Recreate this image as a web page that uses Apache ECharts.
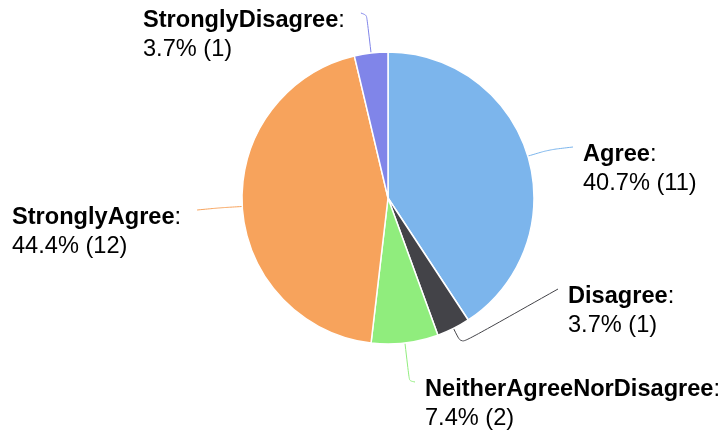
<!DOCTYPE html>
<html>
<head>
<meta charset="utf-8">
<script src="https://cdn.jsdelivr.net/npm/echarts@6/dist/echarts.min.js"></script>
<style>
  html, body { margin: 0; padding: 0; background: #fff; }
  #chart { width: 726px; height: 436px; }
</style>
</head>
<body>
<div id="chart"></div>
<script>
// Survey responses, in clockwise order from the top
const categories = ['Agree', 'Disagree', 'NeitherAgreeNorDisagree', 'StronglyAgree', 'StronglyDisagree'];
const counts = [11, 1, 2, 12, 1];
const colors = ['#7cb5ec', '#434348', '#90ed7d', '#f7a35c', '#8085e9'];

// Label block placement: left edge, vertical middle, side of the pie,
// and how far the connector runs outward before turning to the label
const labelSpots = {
  Agree:                   { x: 583, y: 169, side: 'right', reach: 22 },
  Disagree:                { x: 568, y: 311, side: 'right', reach: 17 },
  NeitherAgreeNorDisagree: { x: 425, y: 404, side: 'right', reach: 38 },
  StronglyAgree:           { x: 12,  y: 232, side: 'left',  reach: 22 },
  StronglyDisagree:        { x: 143, y: 35,  side: 'left',  reach: 38 }
};

const FONT = 'Liberation Sans, Arial, Helvetica, sans-serif';
const total = counts.reduce((a, b) => a + b, 0);
const chart = echarts.init(document.getElementById('chart'), null, { renderer: 'canvas' });

chart.setOption({
  animation: false,
  color: colors,
  series: [{
    type: 'pie',
    center: [388, 198],
    radius: 146,
    startAngle: 90,
    clockwise: true,
    avoidLabelOverlap: false,
    itemStyle: { borderColor: '#ffffff', borderWidth: 1.5 },
    label: {
      show: true,
      formatter: p => '{n|' + p.name + '}:\n' + (p.value / total * 100).toFixed(1) + '% (' + p.value + ')',
      color: '#000',
      fontFamily: FONT,
      fontSize: 23.6,
      lineHeight: 29,
      align: 'left',
      rich: {
        n: { fontWeight: 'bold', fontSize: 23.6, lineHeight: 29, color: '#000', fontFamily: FONT }
      }
    },
    labelLine: { show: true, length: 10, length2: 0, smooth: 0.25, lineStyle: { width: 1 } },
    labelLayout: function (params) {
      const spot = labelSpots[categories[params.dataIndex]];
      const pts = params.labelLinePoints;
      const out = { x: spot.x, y: spot.y, align: 'left', verticalAlign: 'middle' };
      if (pts) {
        const p0 = pts[0], p1 = pts[1];
        const dx = p1[0] - p0[0], dy = p1[1] - p0[1];
        const len = Math.hypot(dx, dy) || 1;
        const bend = [p0[0] + dx / len * spot.reach, p0[1] + dy / len * spot.reach];
        const endX = spot.side === 'right' ? spot.x - 10 : spot.x + params.labelRect.width + 16;
        const end = [endX, spot.y - 22];
        out.labelLinePoints = [p0, bend, end];
      }
      return out;
    },
    data: categories.map((c, i) => ({ name: c, value: counts[i] }))
  }]
});
</script>
</body>
</html>
